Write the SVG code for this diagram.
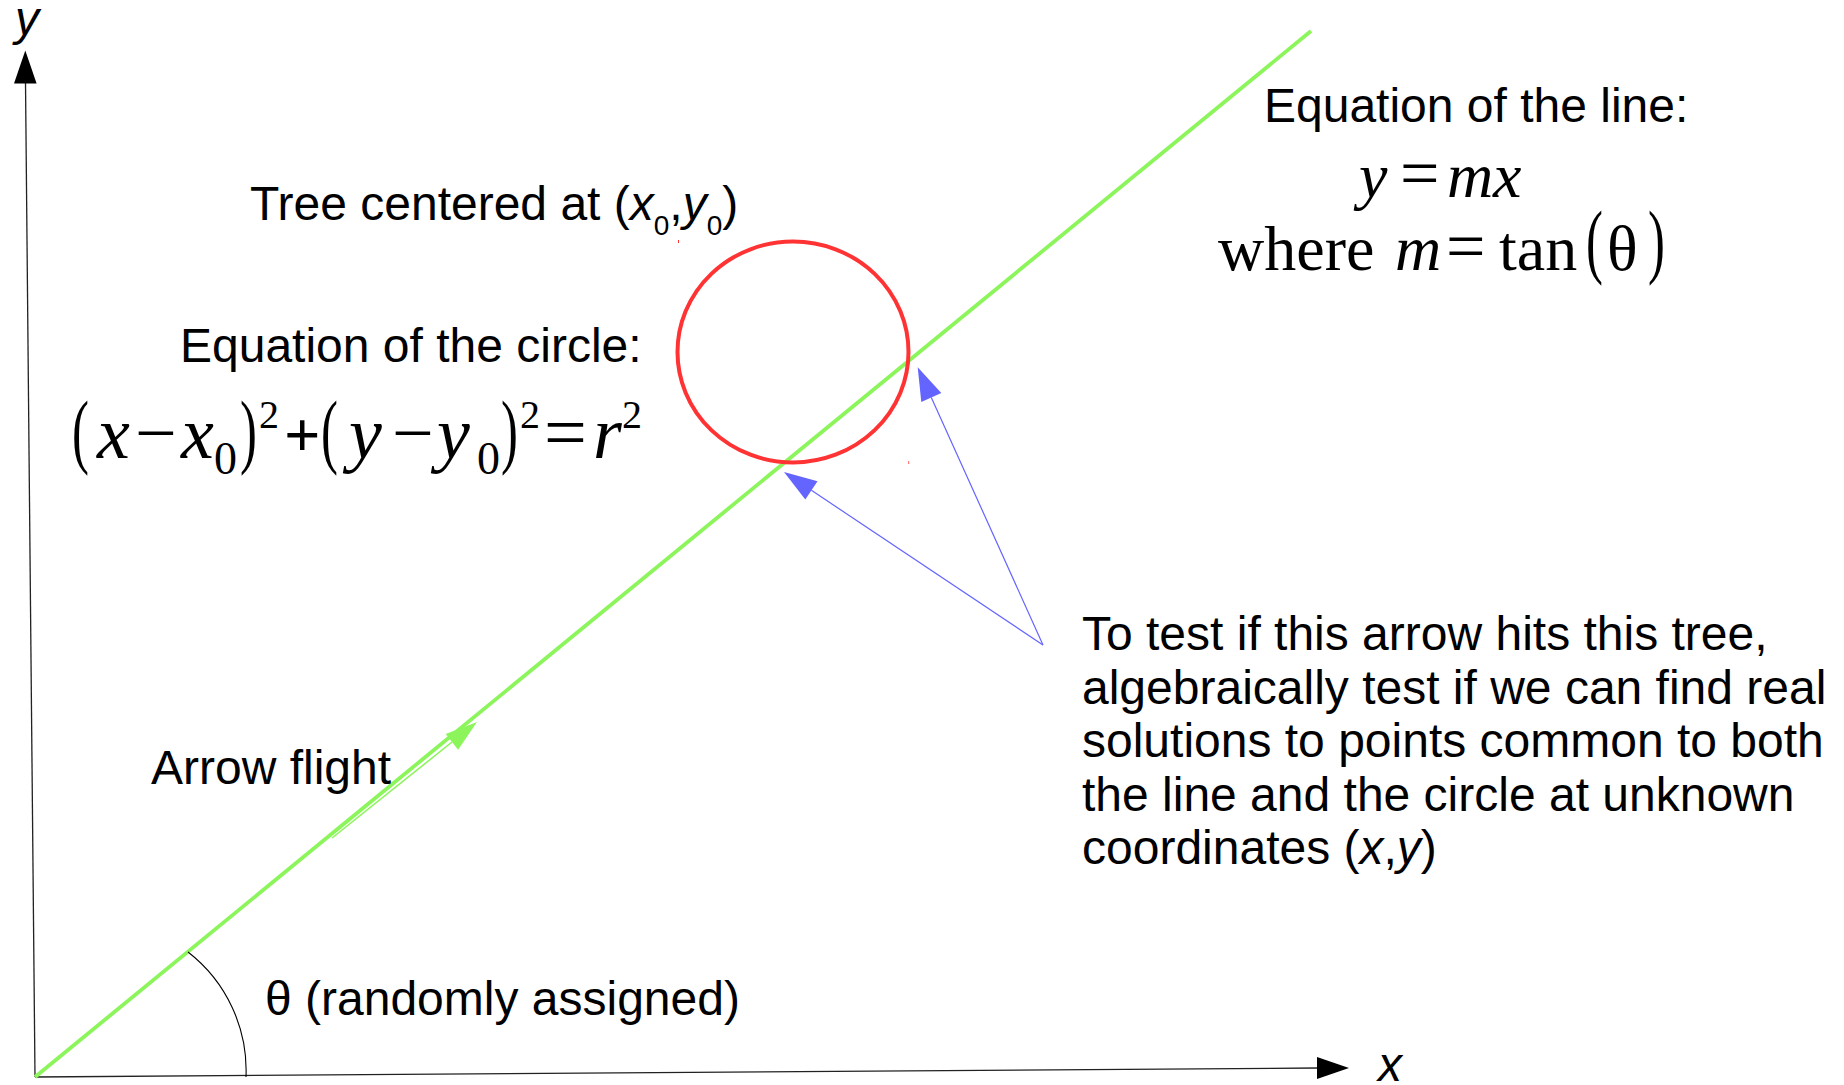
<svg xmlns="http://www.w3.org/2000/svg" width="1844" height="1085" viewBox="0 0 1844 1085">
<style>
.sans{font-family:"Liberation Sans",Arial,sans-serif;font-size:48px;fill:#000}
.it{font-style:italic}
.m{font-family:"Liberation Serif","Times New Roman",serif;fill:#000}
.mi{font-family:"Liberation Serif","Times New Roman",serif;font-style:italic;fill:#000}
.par{font-family:"Liberation Serif","Times New Roman",serif;font-size:82px;fill:#000}
.axis{stroke:#222;stroke-width:1.3;fill:none}
.green{stroke:#8cf55c;fill:none}
.blue{stroke:#6464ff;stroke-width:1.2;fill:none}
</style>
<rect width="1844" height="1085" fill="#fff"/>

<g id="axes">
  <line class="axis" x1="35" y1="1077" x2="25.5" y2="82"/>
  <polygon points="25.3,50.5 14,83.5 36.6,83.5" fill="#000"/>
  <line class="axis" x1="35" y1="1077" x2="1318" y2="1068"/>
  <polygon points="1349,1068 1317,1057 1317,1079" fill="#000"/>
  <text class="sans it" x="15" y="35">y</text>
  <text class="sans it" x="1378" y="1081">x</text>
</g>

<g id="connectors">
  <line class="green" stroke-width="3.8" x1="35" y1="1077" x2="1311" y2="31"/>
  <line class="green" stroke-width="1.6" x1="332" y1="838" x2="452" y2="742"/>
  <polygon points="477,722 458.1,749.7 445.7,733.9" fill="#8cf55c"/>
  <line class="blue" x1="1043" y1="645" x2="811.4" y2="490.3"/>
  <polygon points="784,472 817.5,481.2 805.3,499.4" fill="#6464ff"/>
  <line class="blue" x1="1043" y1="645" x2="931.3" y2="397.4"/>
  <polygon points="917.7,367.3 941.3,392.9 921.3,401.9" fill="#6464ff"/>
  <path d="M188,952 A150,150 0 0 1 246,1077" stroke="#000" stroke-width="1.1" fill="none"/>
</g>

<g id="tree">
  <ellipse cx="793" cy="352" rx="115.5" ry="110.5" fill="none" stroke="#ff3333" stroke-width="4"/>
  <rect x="678" y="240" width="1" height="3" fill="#ff3333"/>
  <rect x="908" y="461" width="1.2" height="3" fill="#ff8080"/>
</g>

<g id="tree-label">
  <text class="sans" x="250" y="220">Tree centered at (<tspan class="it">x</tspan><tspan font-size="28" dy="15">0</tspan><tspan dy="-15">,</tspan><tspan class="it">y</tspan><tspan font-size="28" dy="15">0</tspan><tspan dy="-15">)</tspan></text>
</g>

<g id="circle-equation">
  <text class="sans" x="180" y="362">Equation of the circle:</text>
  <text class="par" transform="translate(72,458) scale(0.62,1)">(</text>
  <text class="mi" font-size="74" x="97" y="458">x</text>
  <text class="m" font-size="74" x="135" y="458">−</text>
  <text class="mi" font-size="74" x="181" y="458">x</text>
  <text class="m" font-size="46" x="214" y="474">0</text>
  <text class="par" transform="translate(240,458) scale(0.62,1)">)</text>
  <text class="m" font-size="40" x="259" y="428">2</text>
  <text class="m" font-size="64" font-weight="bold" x="284" y="456">+</text>
  <text class="par" transform="translate(321,458) scale(0.62,1)">(</text>
  <text class="mi" font-size="74" x="349" y="458">y</text>
  <text class="m" font-size="74" x="392" y="458">−</text>
  <text class="mi" font-size="74" x="437" y="458">y</text>
  <text class="m" font-size="46" x="477" y="474">0</text>
  <text class="par" transform="translate(501,458) scale(0.62,1)">)</text>
  <text class="m" font-size="40" x="520" y="428">2</text>
  <text class="m" font-size="76" x="544" y="458">=</text>
  <text class="mi" font-size="74" x="593" y="458">r</text>
  <text class="m" font-size="40" x="622" y="428">2</text>
</g>

<g id="line-equation">
  <text class="sans" x="1264" y="122">Equation of the line:</text>
  <text class="mi" font-size="64" x="1359" y="197">y</text>
  <text class="m" font-size="70" x="1400" y="197">=</text>
  <text class="mi" font-size="64" x="1447" y="197">m</text>
  <text class="mi" font-size="64" x="1493" y="197">x</text>
  <text class="m" font-size="64" x="1218" y="270">where</text>
  <text class="mi" font-size="64" x="1395" y="270">m</text>
  <text class="m" font-size="70" x="1446" y="270">=</text>
  <text class="m" font-size="64" x="1499" y="270">tan</text>
  <text class="par" font-size="78" transform="translate(1586,268) scale(0.62,1)">(</text>
  <text class="m" font-size="64" x="1607" y="270">θ</text>
  <text class="par" font-size="78" transform="translate(1648,268) scale(0.62,1)">)</text>
</g>

<g id="arrow-label">
  <text class="sans" x="151" y="784">Arrow flight</text>
</g>

<g id="angle-label">
  <text class="sans" x="265" y="1015">θ (randomly assigned)</text>
</g>

<g id="explanation">
  <text class="sans" x="1082" y="650">To test if this arrow hits this tree,</text>
  <text class="sans" x="1082" y="703.5">algebraically test if we can find real</text>
  <text class="sans" x="1082" y="757">solutions to points common to both</text>
  <text class="sans" x="1082" y="810.5">the line and the circle at unknown</text>
  <text class="sans" x="1082" y="864">coordinates (<tspan class="it">x</tspan>,<tspan class="it">y</tspan>)</text>
</g>
</svg>
